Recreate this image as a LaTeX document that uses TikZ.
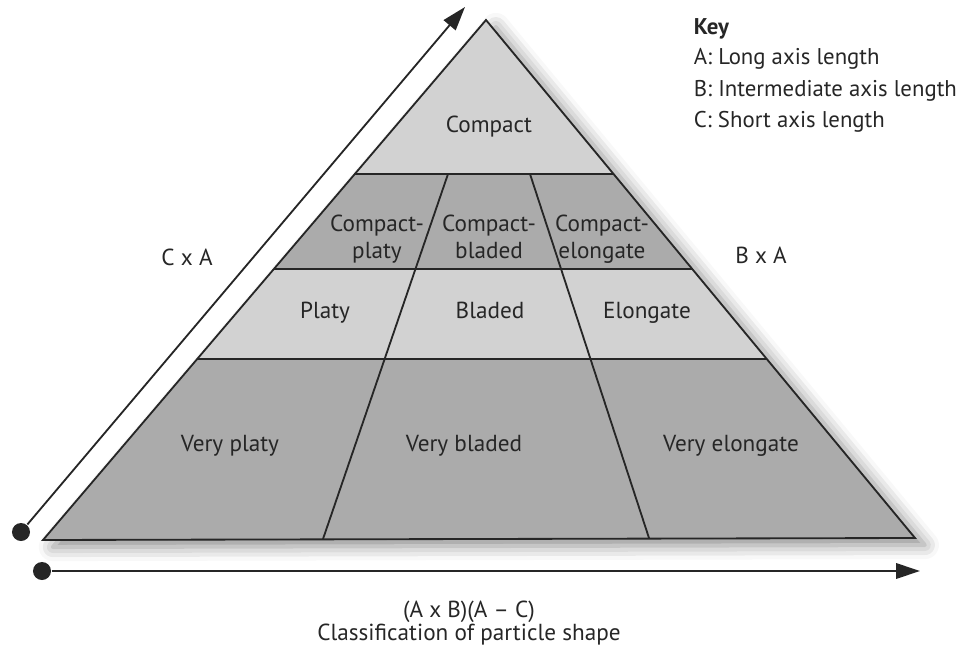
\documentclass[tikz,border=0pt]{standalone}
\usepackage{fontspec}
\setmainfont{PT Sans}
\usetikzlibrary{arrows.meta,shadows.blur}
\colorlet{bandLight}{gray!35}
\colorlet{bandDark}{gray!66}
\colorlet{inkDark}{black!85}
\tikzset{
  cell/.style={font=\fontsize{16.5}{19.4}\selectfont,align=center,text=inkDark,inner sep=0pt},
  keyline/.style={font=\fontsize{16.2}{19.4}\selectfont,text=inkDark,inner sep=0pt,anchor=base west},
  axisdot/.style={circle,fill=inkDark,inner sep=0pt,minimum size=0.45cm},
  axisline/.style={draw=inkDark,line width=1.3pt,-{Triangle[length=17pt,width=11pt]}},
}

\begin{document}
\begin{tikzpicture}[x=0.025cm,y=-0.025cm,line width=1.3pt]
\useasboundingbox (0,0) rectangle (968,657);
% the pyramid
\coordinate (apex) at (486,20);
\coordinate (bl) at (43,540);
\coordinate (br) at (915,538);
\fill[bandLight,blur shadow={shadow xshift=7pt,shadow yshift=-5pt,shadow blur radius=10pt,shadow opacity=45}] (apex) -- (br) -- (bl) -- cycle;
\fill[bandDark] (354.8,174) -- (613.5,174) -- (692.2,269) -- (273.9,269) -- cycle;
\fill[bandDark] (197.2,359) -- (766.8,359) -- (br) -- (bl) -- cycle;
\draw[inkDark] (354.8,174) -- (613.5,174);
\draw[inkDark] (273.9,269) -- (692.2,269);
\draw[inkDark] (197.2,359) -- (766.8,359);
\draw[inkDark] (448,174) -- (323,539);
\draw[inkDark] (530,174) -- (649,538);
\draw[inkDark,line join=miter] (apex) -- (br) -- (bl) -- cycle;

% cells
\node[cell,anchor=base] (compact) at (489,133) {Compact};
\node[cell] (cplaty) at (377,239) {Compact-\\platy};
\node[cell] (cbladed) at (489,237) {Compact-\\bladed};
\node[cell] (celongate) at (602,239) {Compact-\\elongate};
\node[cell,anchor=base] (platy) at (325,318) {Platy};
\node[cell,anchor=base] (bladed) at (490,318) {Bladed};
\node[cell,anchor=base] (elongate) at (647,318) {Elongate};
\node[cell,anchor=base] (vplaty) at (230,451) {Very platy};
\node[cell,anchor=base] (vbladed) at (464,451) {Very bladed};
\node[cell,anchor=base] (velongate) at (731,451) {Very elongate};

% axes
\node[axisdot] (leftdot) at (21,532) {};
\coordinate (lefttip) at (465,7);
\draw[axisline] (leftdot) -- (lefttip);
\node[axisdot] (basedot) at (42,571) {};
\coordinate (basetip) at (920,571);
\draw[axisline] (basedot) -- (basetip);
\node[cell,anchor=base] (cxa) at (187,265) {C x A};
\node[cell,anchor=base] (bxa) at (761,263) {B x A};
\node[cell,anchor=base] (formula) at (469,617) {(A x B)(A -- C)};
\node[cell,anchor=base] (caption) at (469,640) {Classification of particle shape};

% key
\node[keyline,font=\fontsize{16.2}{19.4}\selectfont\bfseries] (key) at (693,35) {Key};
\node[keyline] (keya) at (693,65) {A: Long axis length};
\node[keyline] (keyb) at (693,97) {B: Intermediate axis length};
\node[keyline] (keyc) at (693,128) {C: Short axis length};
\end{tikzpicture}
\end{document}
